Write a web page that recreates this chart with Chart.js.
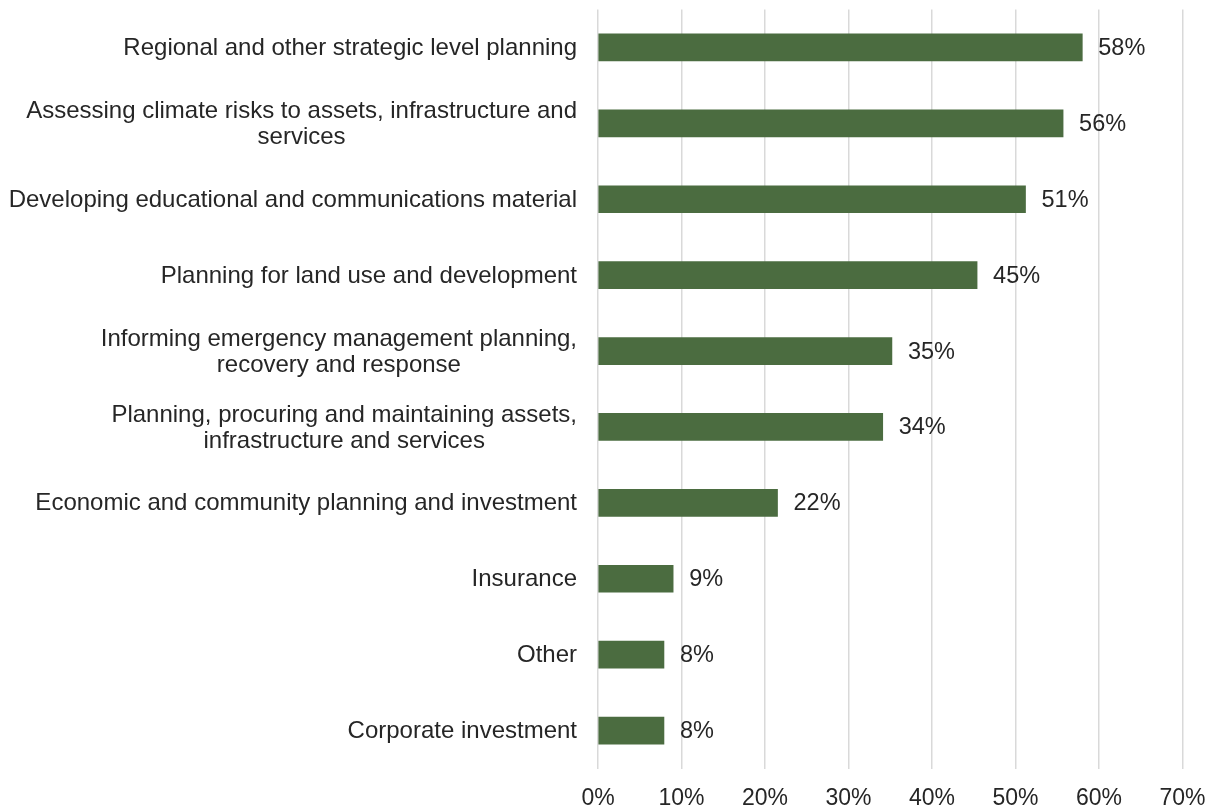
<!DOCTYPE html>
<html>
<head>
<meta charset="utf-8">
<script src="https://cdn.jsdelivr.net/npm/chart.js@4/dist/chart.umd.min.js"></script>
<style>
html,body{margin:0;padding:0;background:#fff;}
#wrap{width:1215px;height:807px;position:relative;}
</style>
</head>
<body>
<div id="wrap"><canvas id="c" width="1215" height="807"></canvas></div>
<script>
const categories = [
  ["Regional and other strategic level planning"],
  ["Assessing climate risks to assets, infrastructure and", "services"],
  ["Developing educational and communications material"],
  ["Planning for land use and development"],
  ["Informing emergency management planning,", "recovery and response"],
  ["Planning, procuring and maintaining assets,", "infrastructure and services"],
  ["Economic and community planning and investment"],
  ["Insurance"],
  ["Other"],
  ["Corporate investment"]
];
const values = [58.0, 55.7, 51.2, 45.4, 35.2, 34.1, 21.5, 9.0, 7.9, 7.9];
const valueLabels = ["58%", "56%", "51%", "45%", "35%", "34%", "22%", "9%", "8%", "8%"];
const xTicks = [0, 10, 20, 30, 40, 50, 60, 70];

const FONT = '"Liberation Sans", Arial, sans-serif';
const TEXT = '#262626';

const labelPlugin = {
  id: 'customLabels',
  afterDatasetsDraw(chart) {
    const ctx = chart.ctx;
    const y = chart.scales.y;
    const area = chart.chartArea;
    ctx.save();
    ctx.font = '24px ' + FONT;
    ctx.fillStyle = TEXT;
    ctx.textBaseline = 'middle';
    const lh = 26;
    categories.forEach((lines, i) => {
      const cy = y.getPixelForTick(i);
      let maxW = 0;
      lines.forEach(l => { maxW = Math.max(maxW, ctx.measureText(l).width); });
      const cx = area.left - 21 - maxW / 2;
      ctx.textAlign = 'center';
      lines.forEach((l, k) => {
        const off = (k - (lines.length - 1) / 2) * lh;
        ctx.fillText(l, cx, cy + off + 1);
      });
    });
    ctx.font = '23.5px ' + FONT;
    const meta = chart.getDatasetMeta(0);
    ctx.textAlign = 'left';
    meta.data.forEach((bar, i) => {
      ctx.fillText(valueLabels[i], bar.x + 16, bar.y + 1);
    });
    ctx.restore();
  }
};

new Chart(document.getElementById('c'), {
  type: 'bar',
  data: {
    labels: categories.map(c => c.join(' ')),
    datasets: [{
      data: values,
      backgroundColor: '#4b6c40',
      borderWidth: 0,
      barThickness: 27
    }]
  },
  options: {
    indexAxis: 'y',
    responsive: false,
    animation: false,
    devicePixelRatio: 1,
    layout: { padding: { left: 598, right: 32.5, top: 9.5, bottom: 0 } },
    plugins: { legend: { display: false }, tooltip: { enabled: false } },
    scales: {
      x: {
        min: 0, max: 70,
        afterBuildTicks: s => { s.ticks = xTicks.map(v => ({ value: v })); },
        afterFit: s => { s.height = 38.5; s.paddingLeft = 0; s.paddingRight = 0; },
        ticks: {
          callback: v => v + '%',
          color: TEXT,
          font: { family: FONT, size: 23, lineHeight: 1 },
          padding: 19,
          maxRotation: 0
        },
        grid: { color: '#d9d9d9', lineWidth: 1.5, drawTicks: false },
        border: { display: false }
      },
      y: {
        display: false,
        grid: { display: false }
      }
    }
  },
  plugins: [labelPlugin]
});
</script>
</body>
</html>
